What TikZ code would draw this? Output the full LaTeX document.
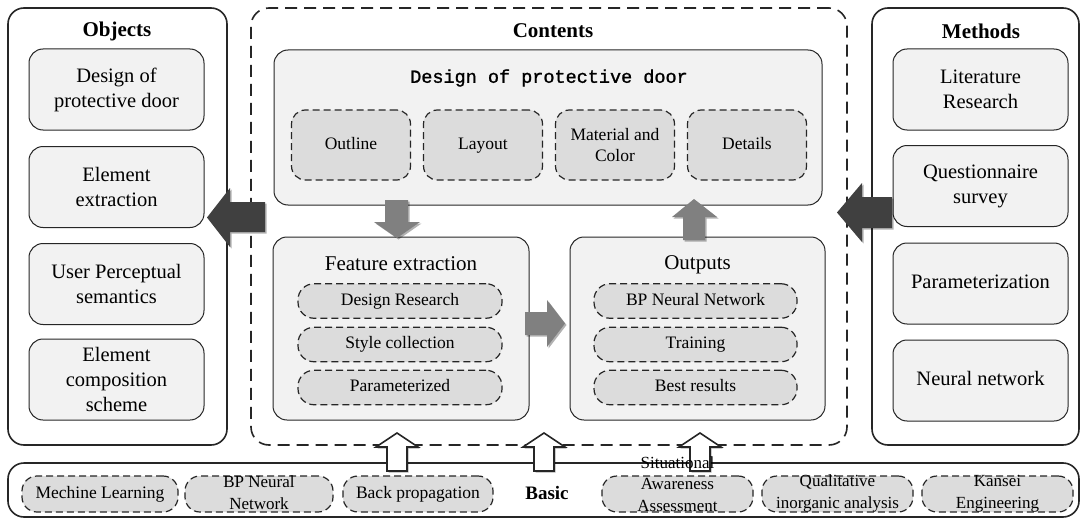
\documentclass[tikz,border=0pt]{standalone}
\usepackage{fontspec}
\setmainfont{Liberation Serif}
\newfontfamily\monof[FakeBold=1.2]{Liberation Mono}
\usetikzlibrary{shadows}
\definecolor{boxfill}{HTML}{F2F2F2}
\definecolor{pillfill}{HTML}{DCDCDC}
\definecolor{linec}{HTML}{262626}
\definecolor{arrgray}{HTML}{808080}
\definecolor{arrdark}{HTML}{404040}
\begin{document}
\begin{tikzpicture}[x=1pt,y=-1pt,
  outerbox/.style={draw=linec, line width=1.6pt, rounded corners=16pt, inner sep=0pt},
  dashbox/.style={draw=linec, line width=1.6pt, dash pattern=on 12pt off 7pt, rounded corners=18pt, inner sep=0pt},
  inbox/.style={draw=linec, fill=boxfill, line width=1pt, rounded corners=14pt, align=center, inner sep=2pt, font=\fontsize{20.5}{25}\selectfont},
  pill/.style={draw=linec, fill=pillfill, line width=1.2pt, dash pattern=on 7pt off 4pt, rounded corners=14pt, align=center, inner sep=1pt, font=\fontsize{17.5}{21}\selectfont},
  bpill/.style={pill, rounded corners=15pt},
  oneline/.style={text height=12pt, text depth=4pt},
  onelineb/.style={text height=14pt, text depth=4.5pt},
  ptext/.style={align=center, inner sep=0pt, font=\fontsize{17}{21.5}\selectfont},
  title/.style={font=\fontsize{21}{25}\selectfont\bfseries, inner sep=0pt},
  sub/.style={font=\fontsize{21}{25}\selectfont, inner sep=0pt},
  garrow/.style={fill=arrgray, drop shadow={shadow xshift=1.5pt, shadow yshift=-1.5pt, opacity=0.3, fill=black}},
  darrow/.style={fill=arrdark, drop shadow={shadow xshift=1.5pt, shadow yshift=-1.5pt, opacity=0.3, fill=black}},
  harrow/.style={fill=white, draw=linec, line width=1.6pt, drop shadow={shadow xshift=1.5pt, shadow yshift=-1.5pt, opacity=0.3, fill=black}}
]
\useasboundingbox[fill=white] (0,0) rectangle (1082,519);

% ---------- outer frames ----------
\node[outerbox, minimum width=219, minimum height=437] (objects) at (117.5,226.5) {};
\node[dashbox, minimum width=596, minimum height=437] (contents) at (549,226.5) {};
\node[outerbox, minimum width=207, minimum height=437] (methods) at (975.5,226.5) {};
\node[outerbox, minimum width=1071, minimum height=54] (basic) at (543.5,490) {};

% ---------- Objects ----------
\node[title] (objt) at (117,31) {Objects};
\node[inbox, minimum width=175, minimum height=81] (o1) at (116.5,89.5) {Design of\\protective door};
\node[inbox, minimum width=175, minimum height=81] (o2) at (116.5,187) {Element\\extraction};
\node[inbox, minimum width=175, minimum height=81] (o3) at (116.5,284) {User Perceptual\\semantics};
\node[inbox, minimum width=175, minimum height=81] (o4) at (116.5,379.5) {Element\\composition\\scheme};

% ---------- Methods ----------
\node[title] (mett) at (981,31) {Methods};
\node[inbox, minimum width=175, minimum height=81] (m1) at (980.5,89.5) {Literature\\Research};
\node[inbox, minimum width=175, minimum height=81] (m2) at (980.5,186) {Questionnaire\\survey};
\node[inbox, onelineb, minimum width=175, minimum height=81] (m3) at (980.5,283.5) {Parameterization};
\node[inbox, onelineb, minimum width=175, minimum height=81] (m4) at (980.5,380.5) {Neural network};

% ---------- Contents ----------
\node[title] (cont) at (553,31) {Contents};
\node[inbox, minimum width=548, minimum height=155] (design) at (548,127.5) {};
\node[font=\monof\fontsize{18.5}{22}\selectfont, inner sep=0pt] (designt) at (549,78) {Design of protective door};
\node[pill, oneline, minimum width=119, minimum height=70] (c1) at (351,145) {Outline};
\node[pill, oneline, minimum width=119, minimum height=70] (c2) at (483,145) {Layout};
\node[pill, minimum width=119, minimum height=70] (c3) at (615,145) {Material and\\Color};
\node[pill, oneline, minimum width=119, minimum height=70] (c4) at (747,145) {Details};

\node[inbox, minimum width=256, minimum height=183] (feat) at (401,328.5) {};
\node[sub] (featt) at (401,264) {Feature extraction};
\node[bpill, oneline, rounded corners=16pt, minimum width=204, minimum height=34.5] (f1) at (400,301) {Design Research};
\node[bpill, oneline, rounded corners=16pt, minimum width=204, minimum height=34.5] (f2) at (400,344.5) {Style collection};
\node[bpill, oneline, rounded corners=16pt, minimum width=204, minimum height=34.5] (f3) at (400,387.5) {Parameterized};

\node[inbox, minimum width=255, minimum height=183] (outp) at (697.5,328.5) {};
\node[sub] (outpt) at (697.5,265) {Outputs};
\node[bpill, oneline, rounded corners=16pt, minimum width=203, minimum height=34.5] (p1) at (695.5,301) {BP Neural Network};
\node[bpill, oneline, rounded corners=16pt, minimum width=203, minimum height=34.5] (p2) at (695.5,344.5) {Training};
\node[bpill, oneline, rounded corners=16pt, minimum width=203, minimum height=34.5] (p3) at (695.5,387.5) {Best results};

% ---------- Basic ----------
\node[bpill, oneline, minimum width=156, minimum height=36] (b1) at (100,494) {Mechine Learning};
\node[bpill, minimum width=148, minimum height=36] (b2) at (259,494) {};
\node[bpill, oneline, minimum width=150, minimum height=36] (b3) at (418,494) {Back propagation};
\node[bpill, minimum width=151, minimum height=36] (b4) at (677.5,494) {};
\node[bpill, minimum width=151, minimum height=36] (b5) at (837.5,494) {};
\node[bpill, minimum width=151, minimum height=36] (b6) at (997.5,494) {};
\node[title, font=\fontsize{19}{23}\selectfont\bfseries] (basict) at (547,493) {Basic};

% ---------- block arrows ----------
\path[garrow] (385,200) -- (408,200) -- (408,222) -- (420,222) -- (397,238) -- (374,222) -- (385,222) -- cycle;
\path[garrow] (683,240) -- (705,240) -- (705,217) -- (717,217) -- (694,199) -- (672,217) -- (683,217) -- cycle;
\path[garrow] (525,312) -- (547,312) -- (547,300) -- (565,323.5) -- (547,347) -- (547,335) -- (525,335) -- cycle;
\path[darrow] (265,202) -- (265,232) -- (230,232) -- (230,247) -- (207,217.5) -- (230,188) -- (230,202) -- cycle;
\path[darrow] (892,197) -- (892,228) -- (862,228) -- (862,242) -- (837,212.5) -- (862,183) -- (862,197) -- cycle;

\foreach \cx in {397,544,700}{
  \path[harrow] (\cx-10,471) -- (\cx+10,471) -- (\cx+10,447) -- (\cx+21,447) -- (\cx,433) -- (\cx-21,447) -- (\cx-10,447) -- cycle;
}

% ---------- overflowing texts ----------
\node[ptext] (b2t) at (259,492.5) {BP Neural\\Network};
\node[ptext] (b4t) at (677.5,484) {Situational\\Awareness\\Assessment};
\node[ptext] (b5t) at (837.5,493.5) {Qualitative\\inorganic analysis};
\node[ptext] (b6t) at (997.5,493.5) {Kansei\\Engineering};
\end{tikzpicture}
\end{document}
